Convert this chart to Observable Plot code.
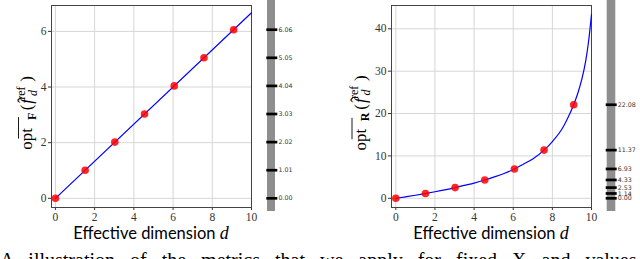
<!DOCTYPE html>
<html><head><meta charset="utf-8">
<script src="https://cdn.jsdelivr.net/npm/d3@7"></script>
<script src="https://cdn.jsdelivr.net/npm/@observablehq/plot@0.6"></script>
<style>
html,body{margin:0;padding:0;background:#fff;overflow:hidden}
#wrap{position:relative;width:640px;height:259px;overflow:hidden}
.panel{position:absolute;top:0}
#caption{position:absolute;left:0;top:249px;font:20px "Liberation Serif",serif;white-space:nowrap;word-spacing:10px;color:#000}
</style></head><body>
<div id="wrap"><div id="p1" class="panel" style="left:0"></div><div id="p2" class="panel" style="left:320px"></div>
<div id="caption">A illustration of the metrics that we apply for fixed X and values X and the values of f and d of f</div></div>
<script>
// ---- data ----
const dims = [0, 1.515, 3.03, 4.545, 6.06, 7.576, 9.09];
const optF = [0.00, 1.01, 2.02, 3.03, 4.04, 5.05, 6.06];
const optR = [0.00, 1.14, 2.53, 4.33, 6.93, 11.37, 22.08];
const lineFx = [0, 10];
const lineFy = [0, 6.67];
const curveRx = [0, 0.5, 1, 1.515, 2, 2.5, 3.03, 3.5, 4, 4.545, 5, 5.5, 6.06, 6.5, 7, 7.576, 8, 8.5, 8.72, 9.09, 9.3, 9.5, 9.7, 9.85, 10];
const curveRy = [0, 0.35, 0.72, 1.14, 1.55, 2.0, 2.53, 3.05, 3.6, 4.33, 5.0, 5.8, 6.93, 8.0, 9.3, 11.37, 13.4, 16.4, 18.3, 22.08, 24.8, 28.0, 32.3, 37.0, 43.4];
const xTicks = [0, 2, 4, 6, 8, 10];
const yTicksF = [0, 2, 4, 6];
const yTicksR = [0, 10, 20, 30, 40];
const xMax = 10;

const SERIF = "'Liberation Serif', 'Times New Roman', serif";

function panel(el, o) {
  const pts = dims.map((d, i) => ({x: d, y: o.ys[i]}));
  const line = o.lx.map((d, i) => ({x: d, y: o.ly[i]}));
  const svg = Plot.plot({
    width: 320, height: 245,
    marginTop: 5, marginBottom: 38, marginLeft: o.ml, marginRight: o.mr,
    style: {fontFamily: SERIF, fontSize: "11.5px", color: "#333", background: "transparent", overflow: "visible"},
    x: {domain: o.xd, ticks: xTicks, tickSize: 3, tickPadding: 2, label: null, tickFormat: d => String(d)},
    y: {domain: o.yd, ticks: o.yt, tickSize: 3, tickPadding: 2, label: null, tickFormat: d => String(d)},
    marks: [
      Plot.ruleX(xTicks, {x: d => d, stroke: "#d6d6d6", strokeWidth: 1}),
      Plot.ruleY(o.yt, {y: d => d, stroke: "#d6d6d6", strokeWidth: 1}),
      Plot.frame({stroke: "#444", strokeWidth: 1}),
      Plot.line(line, {x: "x", y: "y", curve: "monotone-x", stroke: "#0000ff", strokeWidth: 1.2}),
      Plot.dot(pts, {x: "x", y: "y", r: 3.8, fill: "#ff0000", fillOpacity: 0.85, stroke: "none"}),
      Plot.rect([xMax], {x1: d => d, x2: d => d, insetLeft: o.barL, insetRight: -(o.barL + o.barW), insetTop: -5, insetBottom: -4, fill: "#8e8e8e"}),
      Plot.ruleY(o.ys, {y: d => d, x1: () => xMax, x2: () => xMax, insetLeft: o.tickL, insetRight: -(o.tickL + 11), stroke: "#000", strokeWidth: 2.7}),
      Plot.text(o.ys, {y: d => d, x: () => xMax, dx: o.lblDx, textAnchor: "start", text: d => d.toFixed(2), fill: "#333"})
    ]
  });
  el.appendChild(svg);
  const g = d3.select(svg);
  // axis tick labels: serif
  g.selectAll("text").style("font-family", SERIF).style("font-size", "11.5px").attr("fill", "#333");
  // side-bar labels: small sans
  g.selectAll("g[aria-label='text'] text").style("font-family", "'DejaVu Sans', sans-serif").style("font-size", "6.3px");
  const fx0 = o.ml, fx1 = 320 - o.mr;
  // x label
  const xl = g.append("text").attr("x", (fx0 + fx1) / 2).attr("y", 239).attr("text-anchor", "middle")
    .attr("fill", "#000").style("font-family", "Lato, sans-serif").style("font-size", "16.5px");
  xl.append("tspan").text("Effective dimension ");
  xl.append("tspan").attr("font-family", SERIF).style("font-family", SERIF).style("font-style", "italic").style("font-size", "18px").text("d");
  // y label (rotated), pieces laid out along the baseline
  const yg = g.append("g").attr("transform", `translate(${o.ylx},106) rotate(-90)`);
  const inner = yg.append("g");
  const piece = (txt, x, y, size, st = {}) => {
    const tt = inner.append("text").attr("x", x).attr("y", y).attr("fill", "#000")
      .style("font-family", SERIF).style("font-size", size + "px");
    for (const k in st) tt.style(k, st[k]);
    tt.text(txt);
    return tt.node().getComputedTextLength();
  };
  const M = 17, S = 12;
  let c = 0;
  const wOpt = piece("opt", c, 0, M);
  inner.append("line").attr("x1", 0.3).attr("x2", wOpt).attr("y1", -13.5).attr("y2", -13.5).attr("stroke", "#000").attr("stroke-width", 0.9);
  c += wOpt + 0.8;
  c += piece(o.sub, c, 3.5, S, {"font-weight": "bold"}) + 1.5;
  c += piece("(", c, 0, M) + 0.5;
  const wf = piece("f", c, 0, M, {"font-style": "italic"});
  piece("\u02c6", c + wf * 0.5 - 1.5, -3.5, M);
  c += wf + 3.5;
  const wRef = piece("ref", c, -7.5, S);
  const wD = piece("d", c, 4.5, S, {"font-style": "italic"});
  c += Math.max(wRef, wD) + 1;
  c += piece(")", c, 0, M);
  inner.attr("transform", `translate(${-c / 2},0)`);
}

panel(document.getElementById("p1"), {
  ys: optF, lx: lineFx, ly: lineFy, xd: [-0.2, xMax], yd: [-0.33, 6.93], yt: yTicksF,
  ml: 51, mr: 69, barL: 16, barW: 8, tickL: 15.3, lblDx: 27, ylx: 32, sub: "F"
});
panel(document.getElementById("p2"), {
  ys: optR, lx: curveRx, ly: curveRy, xd: [-0.22, xMax], yd: [-2.17, 45.5], yt: yTicksR,
  ml: 71, mr: 49, barL: 15.7, barW: 8.6, tickL: 14.7, lblDx: 26.3, ylx: 45.5, sub: "R"
});
</script>
</body></html>
